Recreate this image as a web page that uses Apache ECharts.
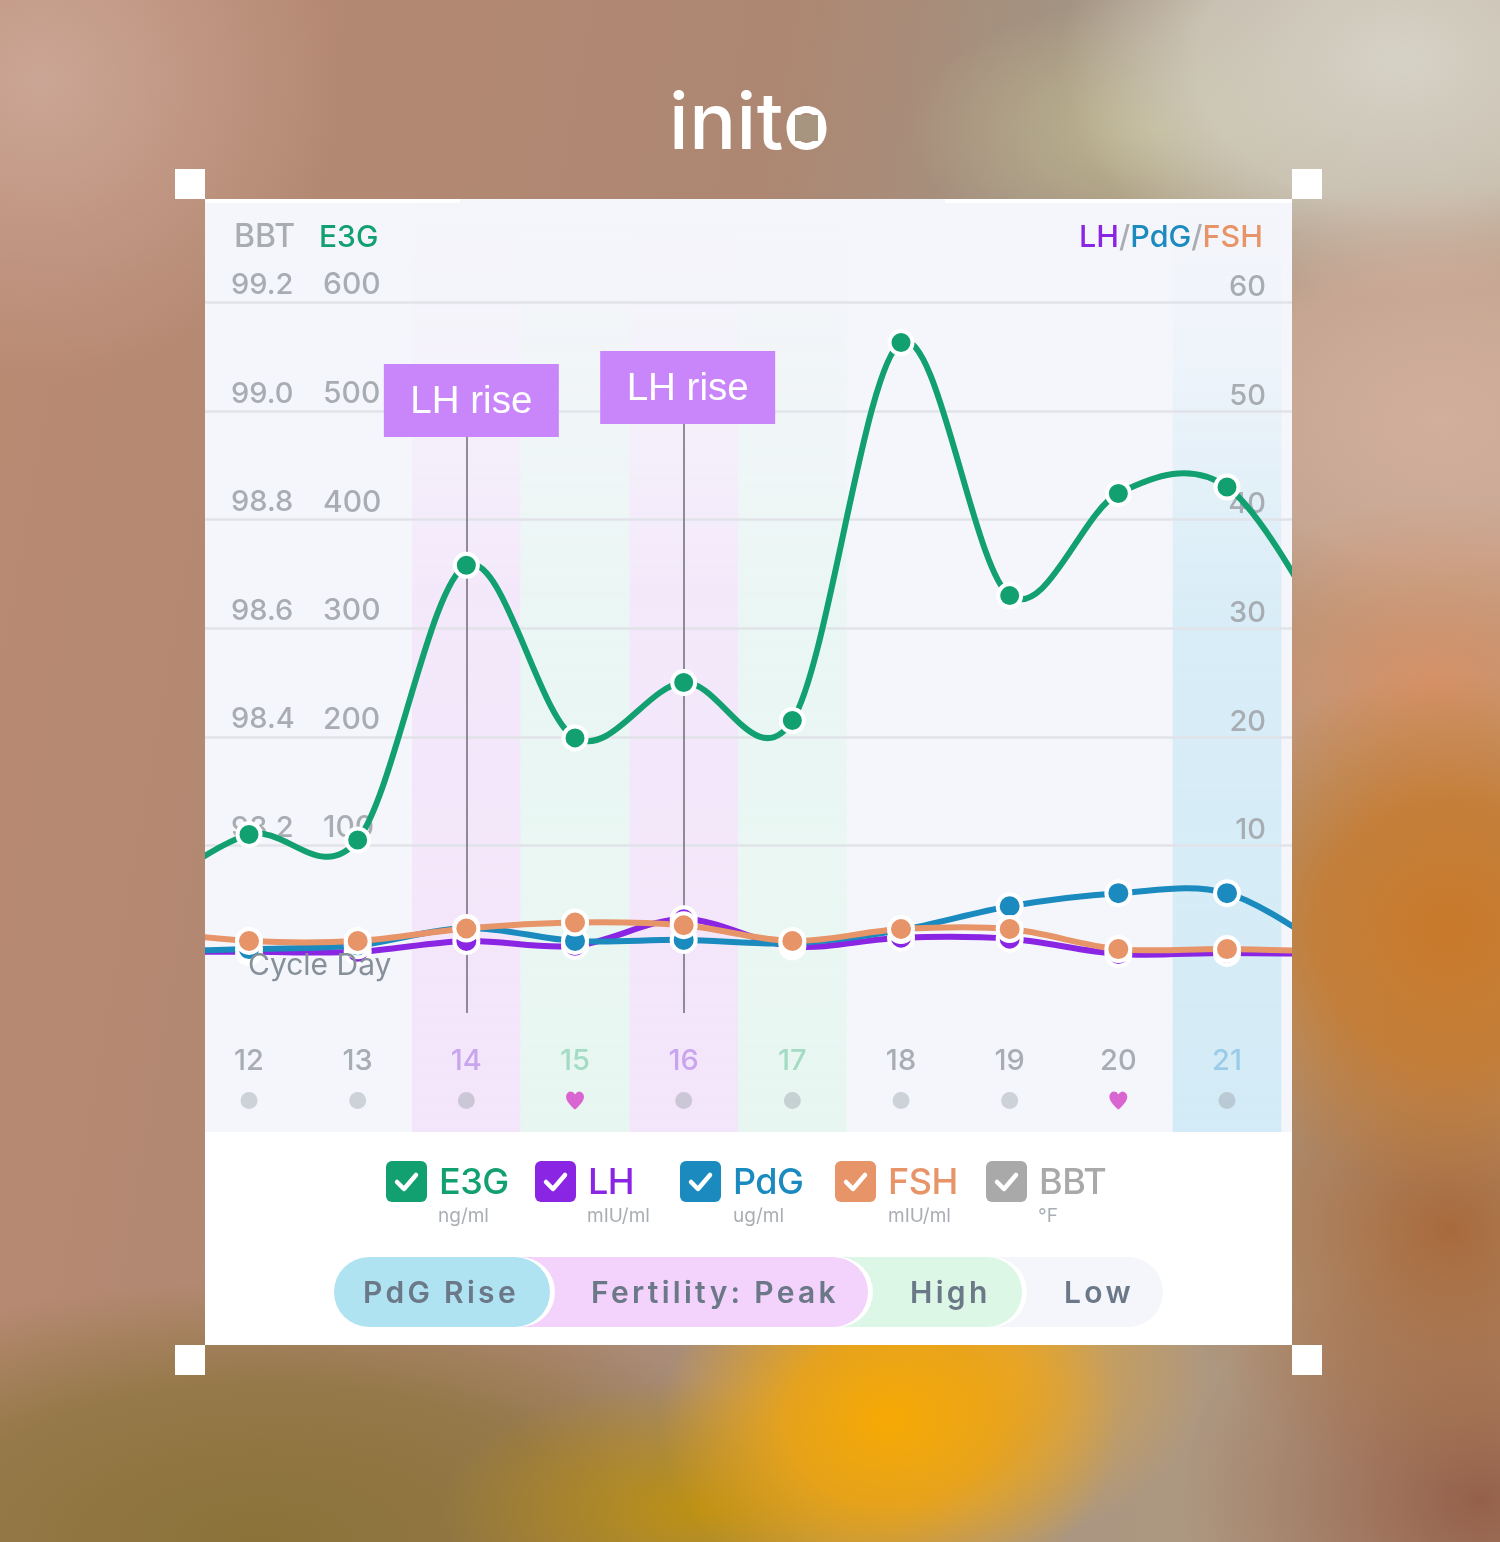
<!DOCTYPE html>
<html>
<head>
<meta charset="utf-8">
<title>inito</title>
<script src="https://cdn.jsdelivr.net/npm/echarts@6/dist/echarts.min.js"></script>
<style>
  html, body { margin: 0; padding: 0; }
  body {
    position: relative; width: 1500px; height: 1542px; overflow: hidden;
    font-family: Inter, "Open Sans", sans-serif;
    background:
      radial-gradient(ellipse 230px 190px at 890px 1420px, #f6a903 0%, rgba(240,165,15,.85) 45%, rgba(210,155,30,0) 100%),
      radial-gradient(ellipse 200px 170px at 1010px 1370px, rgba(236,170,50,.8) 0%, rgba(236,170,50,0) 100%),
      radial-gradient(ellipse 260px 130px at 700px 1510px, rgba(190,145,15,.95) 0%, rgba(190,145,15,0) 100%),
      radial-gradient(ellipse 270px 260px at 1450px 930px, #c8792a 0%, rgba(200,121,42,.8) 50%, rgba(200,121,42,0) 100%),
      radial-gradient(ellipse 300px 180px at 1430px 680px, #d69269 0%, rgba(214,146,105,0) 100%),
      radial-gradient(ellipse 280px 260px at 1450px 1230px, #a86a3c 0%, rgba(168,106,60,0) 100%),
      radial-gradient(ellipse 300px 260px at 1480px 1500px, #95604a 0%, rgba(149,96,74,0) 100%),
      radial-gradient(ellipse 320px 240px at 1440px 420px, #d2ae9c 0%, rgba(210,174,156,.7) 60%, rgba(210,174,156,0) 100%),
      radial-gradient(ellipse 340px 240px at 1400px 60px, #d6d2c6 0%, rgba(214,210,198,.7) 60%, rgba(214,210,198,0) 100%),
      radial-gradient(ellipse 240px 130px at 1150px 130px, #bdb590 0%, rgba(189,181,144,0) 100%),
      radial-gradient(ellipse 560px 260px at 260px 1540px, #8a7238 0%, rgba(138,114,56,.7) 60%, rgba(138,114,56,0) 100%),
      radial-gradient(ellipse 300px 300px at 40px 80px, #cba595 0%, rgba(203,165,149,0) 100%),
      linear-gradient(100deg, #b98a72 0%, #ad8772 45%, #a39382 60%, #b59b80 100%);
  }
  #logo {
    position: absolute; left: 669px; top: 76px; color: #fff; font-size: 78px; font-weight: 500;
    line-height: 90px; letter-spacing: 0.5px;
  }
  #logoHole { position: absolute; left: 795px; top: 115px; width: 23px; height: 26px; background: #a89580; }
  #card { position: absolute; left: 205px; top: 199px; width: 1087px; height: 1146px; background: #fff; }
  #plotbg { position: absolute; left: 205px; top: 199px; width: 1087px; height: 933px; background: #f5f6fb; }
  .strip { position: absolute; top: 199px; height: 4px; background: #fff; }
  .handle { position: absolute; width: 30px; height: 30px; background: #fff; }
  #main { position: absolute; left: 0; top: 0; width: 1500px; height: 1542px; }
  .check { position: absolute; top: 1161px; width: 41px; height: 41px; border-radius: 6px; }
  .check svg { display: block; }
  .lname { position: absolute; top: 1160px; font-size: 36px; font-weight: 500; line-height: 42px; letter-spacing: -0.5px; }
  .lunit { position: absolute; top: 1206px; font-size: 19px; line-height: 20px; color: #a9aeb4; }
  .pill { position: absolute; top: 1257px; height: 70px; border-radius: 35px; }
  .ptext { position: absolute; top: 1272px; font-size: 30px; font-weight: 600; line-height: 40px; letter-spacing: 3.3px; color: #6b7888; white-space: nowrap; }
</style>
</head>
<body>
<div id="card"></div>
<div id="plotbg"></div>
<div class="strip" style="left:205px;width:255px"></div>
<div class="strip" style="left:945px;width:347px"></div>
<div class="handle" style="left:175px;top:169px"></div>
<div class="handle" style="left:1292px;top:169px"></div>
<div class="handle" style="left:175px;top:1345px"></div>
<div class="handle" style="left:1292px;top:1345px"></div>
<div id="logo">inito</div>
<div id="logoHole"></div>
<div id="main"></div>
<div id="legendBox"></div>
<script>
// cycle days, 11 and 22 sit just outside the visible window
const days = [11, 12, 13, 14, 15, 16, 17, 18, 19, 20, 21, 22];
const e3g = [50, 110, 105, 358, 199, 250, 215, 563, 330, 424, 430, 285];
const lh = [0.2, 0.2, 0.2, 1.2, 0.75, 3.2, 0.7, 1.5, 1.4, 0, 0.1, 0];
const pdg = [0.2, 0.45, 0.8, 2.4, 1.2, 1.3, 1.0, 2.2, 4.4, 5.6, 5.6, 0];
const fsh = [2.2, 1.2, 1.2, 2.35, 2.9, 2.65, 1.2, 2.3, 2.3, 0.45, 0.45, 0.2];

const dayTicks = [12, 13, 14, 15, 16, 17, 18, 19, 20, 21];
const status = ['dot', 'dot', 'dot', 'heart', 'dot', 'dot', 'dot', 'dot', 'heart', 'dot'];
const gridValues = [100, 200, 300, 400, 500, 600];
const bbtTicks = [98.2, 98.4, 98.6, 98.8, 99.0, 99.2];
const rightTicks = [10, 20, 30, 40, 50, 60];
const lhRiseDays = [14, 16];
const lhRiseTop = [476, 488];

const pinkDays = [14, 16];
const greenDays = [15, 17];
const blueDays = [21];

const legendNames = ['E3G', 'LH', 'PdG', 'FSH', 'BBT'];
const legendUnits = ['ng/ml', 'mIU/ml', 'ug/ml', 'mIU/ml', '°F'];
const phaseNames = ['PdG Rise', 'Fertility: Peak', 'High', 'Low'];

const C = { e3g: '#12a070', lh: '#8a25e3', pdg: '#1a8abf', fsh: '#e69468', bbt: '#a9a9a9' };
const legendColors = [C.e3g, C.lh, C.pdg, C.fsh, C.bbt];
const legendBoxX = [386, 535, 680, 835, 986];
const legendTextX = [439, 588, 733, 888, 1039];
const legendUnitX = [438, 587, 733, 888, 1038];

const pills = [
  { left: 855, right: 1163, color: '#f5f6fb', textX: 1064 },
  { left: 700, right: 1022, color: '#dcf7e6', textX: 910 },
  { left: 480, right: 868, color: '#f3d2fb', textX: 591 },
  { left: 334, right: 550, color: '#afe3f2', textX: 363 }
];

// fade a band colour in from the top of the plot
const bandFill = (rgb) => ({
  type: 'linear', x: 0, y: 0, x2: 0, y2: 1,
  colorStops: [
    { offset: 0, color: `rgba(${rgb},0)` },
    { offset: 0.12, color: `rgba(${rgb},0.1)` },
    { offset: 0.45, color: `rgba(${rgb},0.85)` },
    { offset: 1, color: `rgba(${rgb},1)` }
  ]
});

const Y_MIN = -163.9;
const Y_MAX = 695.2;
const bandArea = (list, rgb) => list.map(d => [
  { xAxis: d - 0.5, yAxis: Y_MAX, itemStyle: { color: bandFill(rgb) } },
  { xAxis: d + 0.5, yAxis: Y_MIN }
]);

// the app draws a cardinal spline, which overshoots between points
// and echarts smooth can't do that, so one bezier per segment
const curveSeries = (name, data, color, yAxisIndex, z) => ({
  name: name + ' curve',
  type: 'custom',
  yAxisIndex,
  z,
  clip: true,
  silent: true,
  data: days.map((d, i) => [d, data[i]]),
  encode: { x: 0, y: 1 },
  renderItem: (params, api) => {
    const i = params.dataIndex;
    if (i >= days.length - 1) return null;
    const pt = k => {
      const n = Math.max(0, Math.min(days.length - 1, k));
      return api.coord([days[n], data[n]]);
    };
    const p0 = pt(i - 1), p1 = pt(i), p2 = pt(i + 1), p3 = pt(i + 2);
    return {
      type: 'bezierCurve',
      shape: {
        x1: p1[0],
        y1: p1[1],
        cpx1: p1[0] + (p2[0] - p0[0]) / 6,
        cpy1: p1[1] + (p2[1] - p0[1]) / 6,
        cpx2: p2[0] - (p3[0] - p1[0]) / 6,
        cpy2: p2[1] - (p3[1] - p1[1]) / 6,
        x2: p2[0],
        y2: p2[1]
      },
      style: { stroke: color, fill: 'none', lineWidth: 6, lineCap: 'round' }
    };
  }
});

const dotSeries = (name, data, color, yAxisIndex, z, size) => ({
  name,
  type: 'line',
  yAxisIndex,
  z,
  symbol: 'circle',
  symbolSize: size,
  showAllSymbol: true,
  data: days.map((d, i) => [d, data[i]]),
  lineStyle: { width: 0, opacity: 0 },
  itemStyle: { color, borderColor: '#fff', borderWidth: 4 }
});

const yAxisBase = {
  type: 'value',
  position: 'left',
  z: 1,
  axisLine: { show: false },
  axisTick: { show: false },
  splitLine: { show: false }
};

const tickLabel = (customValues, margin, extra) => Object.assign({
  customValues,
  inside: true,
  margin,
  color: '#a8adb3',
  fontFamily: 'Inter',
  fontSize: 29,
  fontWeight: 500,
  verticalAlign: 'bottom',
  lineHeight: 34
}, extra);

const richName = { fontSize: 30.5, fontWeight: 500, fontFamily: 'Inter' };

const option = {
  animation: false,
  backgroundColor: 'transparent',
  textStyle: { fontFamily: 'Inter' },
  grid: { left: 205, top: 199, width: 1087, height: 933, containLabel: false },
  xAxis: {
    type: 'value',
    min: 11.595,
    max: 21.598,
    z: 1,
    axisLine: { show: false },
    axisTick: { show: false },
    splitLine: { show: false },
    axisLabel: {
      customValues: dayTicks,
      inside: true,
      margin: 56,
      fontFamily: 'Inter',
      fontSize: 29,
      fontWeight: 500,
      formatter: v => String(v),
      color: v => {
        const d = Number(v);
        if (pinkDays.includes(d)) return '#c9a5ee';
        if (greenDays.includes(d)) return '#a3dcc4';
        if (blueDays.includes(d)) return '#9accea';
        return '#a8adb3';
      }
    }
  },
  yAxis: [
    Object.assign({}, yAxisBase, {
      min: 97.672, max: 99.39,
      name: 'BBT', nameLocation: 'end', nameGap: -54,
      nameTextStyle: { color: '#a9adb2', fontSize: 32, fontWeight: 500, fontFamily: 'Inter', align: 'left', padding: [0, 0, 0, 29] },
      axisLabel: tickLabel(bbtTicks, 26, { align: 'left', formatter: v => Number(v).toFixed(1) })
    }),
    Object.assign({}, yAxisBase, {
      min: Y_MIN, max: Y_MAX,
      name: 'E3G', nameLocation: 'end', nameGap: -54,
      nameTextStyle: { color: C.e3g, fontSize: 30, fontWeight: 500, fontFamily: 'Inter', align: 'left', padding: [0, 0, 0, 114] },
      axisLabel: tickLabel(gridValues, 118, { align: 'left', fontSize: 30 })
    }),
    Object.assign({}, yAxisBase, {
      position: 'right',
      min: -16.39, max: 69.52,
      name: '{l|LH}{s|/}{p|PdG}{s|/}{f|FSH}', nameLocation: 'end', nameGap: -54,
      nameTextStyle: {
        align: 'right', padding: [0, 29, 0, 0], fontSize: 30.5, fontFamily: 'Inter',
        rich: {
          l: Object.assign({ color: C.lh }, richName),
          s: Object.assign({ color: '#a9adb2' }, richName),
          p: Object.assign({ color: C.pdg }, richName),
          f: Object.assign({ color: C.fsh }, richName)
        }
      },
      axisLabel: tickLabel(rightTicks, 26, { align: 'right', lineHeight: 30 })
    })
  ],
  series: [
    // bands and gridlines only
    {
      type: 'line',
      yAxisIndex: 1,
      z: 0,
      data: [],
      silent: true,
      markArea: {
        silent: true,
        z: 0,
        data: [].concat(
          bandArea(pinkDays, '243,229,250'),
          bandArea(greenDays, '232,246,242'),
          bandArea(blueDays, '211,235,246')
        )
      },
      markLine: {
        silent: true,
        z: 1,
        symbol: 'none',
        label: { show: false },
        lineStyle: { color: '#e1e3e9', width: 2.5, type: 'solid' },
        data: gridValues.map(v => ({ yAxis: v }))
      }
    },
    // the two LH rise callouts
    {
      type: 'line',
      yAxisIndex: 1,
      z: 1,
      data: [],
      silent: true,
      markLine: {
        silent: true,
        z: 1,
        symbol: 'none',
        label: { show: false },
        lineStyle: { color: '#6f6a78', width: 1.5, type: 'solid' },
        data: lhRiseDays.map((d, i) => [{ coord: [d, lhRiseTop[i]] }, { coord: [d, -54.3] }])
      }
    },
    curveSeries('E3G', e3g, C.e3g, 1, 3),
    dotSeries('E3G', e3g, C.e3g, 1, 4, 23),
    curveSeries('LH', lh, C.lh, 2, 5),
    dotSeries('LH', lh, C.lh, 2, 6, 24),
    curveSeries('PdG', pdg, C.pdg, 2, 7),
    dotSeries('PdG', pdg, C.pdg, 2, 8, 24),
    curveSeries('FSH', fsh, C.fsh, 2, 9),
    dotSeries('FSH', fsh, C.fsh, 2, 10, 24),
    {
      name: 'LH rise',
      type: 'scatter',
      yAxisIndex: 1,
      z: 11,
      silent: true,
      symbol: 'rect',
      symbolSize: [175, 73],
      data: lhRiseDays.map((d, i) => ({ value: [d, lhRiseTop[i]], symbolOffset: [i === 0 ? 5 : 4, -36.5] })),
      itemStyle: { color: '#c986fb', opacity: 1 },
      label: {
        show: true,
        position: [87.5, 38.5],
        align: 'center',
        verticalAlign: 'middle',
        formatter: 'LH rise',
        color: '#fff',
        fontFamily: 'Liberation Sans',
        fontSize: 38.5
      }
    },
    // dot or heart under each day number
    {
      name: 'Status',
      type: 'scatter',
      yAxisIndex: 1,
      z: 3,
      silent: true,
      data: dayTicks.map((d, i) => ({
        value: [d, -135],
        symbol: status[i] === 'heart' ? 'path://M12 22C12 22 1 14 1 7.5a5.8 5.8 0 0 1 11-2.5 5.8 5.8 0 0 1 11 2.5c0 6.5-11 14.5-11 14.5z' : 'circle',
        symbolSize: status[i] === 'heart' ? [18, 18] : 17,
        itemStyle: { color: status[i] === 'heart' ? '#d966d0' : 'rgba(150,158,168,0.42)', opacity: 1 }
      }))
    }
  ],
  graphic: [{
    type: 'text',
    left: 248,
    top: 951,
    z: 20,
    style: { text: 'Cycle Day', fill: '#86909a', fontFamily: 'Inter', fontSize: 30 }
  }]
};

const initChart = () => {
  const chart = echarts.init(document.getElementById('main'), null, { renderer: 'canvas' });
  chart.setOption(option);
};

const buildLegend = () => {
  const box = document.getElementById('legendBox');
  let html = '';
  legendNames.forEach((name, i) => {
    html += `<div class="check" style="left:${legendBoxX[i]}px;background:${legendColors[i]}">
      <svg width="41" height="41" viewBox="0 0 41 41"><path d="M11 21 L18 28 L30 14" fill="none" stroke="#fff" stroke-width="4.5" stroke-linecap="round" stroke-linejoin="round"/></svg></div>`;
    html += `<div class="lname" style="left:${legendTextX[i]}px;color:${legendColors[i]}">${name}</div>`;
    html += `<div class="lunit" style="left:${legendUnitX[i]}px">${legendUnits[i]}</div>`;
  });
  // later pills overlap earlier ones, each with a white edge on the right
  pills.forEach(p => {
    html += `<div class="pill" style="left:${p.left}px;width:${p.right - p.left}px;background:${p.color};box-shadow:5px 0 0 0 #fff"></div>`;
  });
  pills.slice().reverse().forEach((p, i) => {
    html += `<div class="ptext" style="left:${p.textX}px">${phaseNames[i]}</div>`;
  });
  box.innerHTML = html;
};

window.addEventListener('load', () => {
  initChart();
  buildLegend();
});
</script>
</body>
</html>
